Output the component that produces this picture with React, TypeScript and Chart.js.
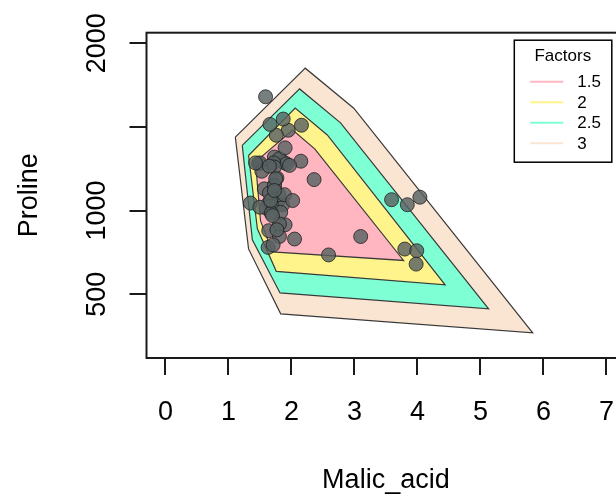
import React, { useEffect, useRef } from "react";
import { Chart, registerables } from "chart.js";

Chart.register(...registerables);

// Observations (Malic_acid, Proline)
const malicAcid = [
  1.71, 1.78, 2.36, 1.95, 2.59, 1.76, 1.87, 2.15, 1.64, 1.35, 2.16, 1.48, 1.73, 1.73, 1.87,
  1.81, 1.92, 1.57, 1.59, 3.1, 1.63, 3.8, 1.86, 1.6, 1.81, 2.05, 1.77, 1.72, 1.9, 1.68,
  1.5, 1.66, 1.83, 1.53, 1.8, 1.81, 1.64, 1.65, 1.5, 3.99, 1.71, 3.84, 1.89, 3.98, 1.77,
  4.04, 3.59, 1.68, 2.02, 1.73, 1.73, 1.65, 1.75, 1.9, 1.67, 1.73, 1.7, 1.97, 1.43,
];
const proline = [
  1065, 1050, 1185, 1480, 735, 1450, 1290, 1295, 1045, 1045, 1510, 1280, 1320, 1150, 1547,
  1310, 1280, 1130, 1680, 845, 780, 770, 1035, 1015, 845, 830, 1195, 1285, 915, 1035,
  1285, 1515, 990, 1235, 1095, 920, 880, 1105, 1020, 760, 795, 1035, 1095, 680, 885,
  1080, 1065, 985, 1060, 1260, 1150, 1265, 1190, 1375, 1060, 1120, 970, 1270, 1285,
];

// Hull polygons for each factor (vertices)
const hull3X = [1.11, 2.22, 2.99, 5.83, 1.83, 1.32];
const hull3Y = [1439, 1851, 1612, 269, 383, 771];
const hull25X = [1.22, 2.13, 2.78, 5.13, 1.82, 1.38];
const hull25Y = [1390, 1727, 1524, 413, 508, 825];
const hull2X = [1.32, 2.06, 2.57, 4.44, 1.76, 1.46];
const hull2Y = [1329, 1613, 1452, 556, 637, 891];
const hull15X = [1.43, 2.02, 2.37, 3.78, 1.7, 1.51];
const hull15Y = [1291, 1482, 1369, 702, 753, 938];

const factorLabels = ["1.5", "2", "2.5", "3"];
const factorColors = ["#FFB6C1", "#FFF38C", "#7FFFD4", "#FAE5D3"];

const xTicks = [0, 1, 2, 3, 4, 5, 6, 7];
const xTickLabels = ["0", "1", "2", "3", "4", "5", "6", "7"];
const yTicks = [500, 1000, 1500, 2000];
const yTickLabels = ["500", "1000", "", "2000"];

const xTitle = "Malic_acid";
const yTitle = "Proline";
const legendTitle = "Factors";

const FONT = '"Liberation Sans", Arial, Helvetica, sans-serif';

function poly(xs: number[], ys: number[]) {
  const pts = xs.map((x, i) => ({ x, y: ys[i] }));
  pts.push({ x: xs[0], y: ys[0] });
  return pts;
}

const rPlot = {
  id: "rPlot",
  afterDraw(chart: any) {
    const { ctx, chartArea: a, scales } = chart;
    const x = scales.x;
    const y = scales.y;
    ctx.save();
    // box
    ctx.strokeStyle = "#1a1a1a";
    ctx.lineWidth = 2;
    ctx.strokeRect(a.left, a.top, a.right - a.left, a.bottom - a.top);
    // ticks
    ctx.beginPath();
    xTicks.forEach((v) => {
      const px = Math.round(x.getPixelForValue(v)) + 0.0;
      ctx.moveTo(px, a.bottom);
      ctx.lineTo(px, a.bottom + 17);
    });
    yTicks.forEach((v) => {
      const py = Math.round(y.getPixelForValue(v));
      ctx.moveTo(a.left, py);
      ctx.lineTo(a.left - 17, py);
    });
    ctx.stroke();

    // tick labels
    ctx.fillStyle = "#000";
    ctx.font = `27px ${FONT}`;
    ctx.textAlign = "center";
    ctx.textBaseline = "alphabetic";
    xTicks.forEach((v, i) => {
      ctx.fillText(xTickLabels[i], x.getPixelForValue(v), a.bottom + 62);
    });
    yTicks.forEach((v, i) => {
      if (!yTickLabels[i]) return;
      ctx.save();
      ctx.translate(a.left - 41.5, y.getPixelForValue(v));
      ctx.rotate(-Math.PI / 2);
      ctx.fillText(yTickLabels[i], 0, 0);
      ctx.restore();
    });

    // axis titles
    ctx.fillText(xTitle, (a.left + a.right) / 2, a.bottom + 130);
    ctx.save();
    ctx.translate(a.left - 110, (a.top + a.bottom) / 2);
    ctx.rotate(-Math.PI / 2);
    ctx.fillText(yTitle, 0, 0);
    ctx.restore();

    // legend
    const lx = a.right - 111;
    const ly = a.top + 7.5;
    const lw = 97.5;
    const lh = 122;
    ctx.fillStyle = "#fff";
    ctx.fillRect(lx, ly, lw, lh);
    ctx.strokeStyle = "#000";
    ctx.lineWidth = 1.5;
    ctx.strokeRect(lx, ly, lw, lh);
    ctx.fillStyle = "#000";
    ctx.font = `17px ${FONT}`;
    ctx.textAlign = "center";
    ctx.textBaseline = "alphabetic";
    ctx.fillText(legendTitle, lx + 48.5, ly + 20.5);
    ctx.textAlign = "left";
    ctx.textBaseline = "middle";
    factorLabels.forEach((lab, i) => {
      const yy = ly + 41.5 + i * 20.5;
      ctx.strokeStyle = factorColors[i];
      ctx.lineWidth = 2;
      ctx.beginPath();
      ctx.moveTo(lx + 16, yy);
      ctx.lineTo(lx + 49, yy);
      ctx.stroke();
      ctx.fillStyle = "#000";
      ctx.fillText(lab, lx + 63, yy + 1);
    });
    ctx.restore();
  },
};

export default function App() {
  const ref = useRef<HTMLCanvasElement | null>(null);

  useEffect(() => {
    if (!ref.current) return;
    const hullStyle = (color: string, order: number) => ({
      type: "scatter" as const,
      showLine: true,
      fill: "shape",
      backgroundColor: color,
      borderColor: "#3a3a3a",
      borderWidth: 1.2,
      pointRadius: 0,
      tension: 0,
      order,
    });
    const chart = new Chart(ref.current, {
      type: "scatter",
      data: {
        datasets: [
          {
            label: "points",
            data: malicAcid.map((x, i) => ({ x, y: proline[i] })),
            backgroundColor: "rgba(88,98,98,0.82)",
            borderColor: "rgba(25,25,25,0.75)",
            borderWidth: 1,
            pointRadius: 7,
            order: 0,
          },
          { label: factorLabels[0], data: poly(hull15X, hull15Y), ...hullStyle(factorColors[0], 1) },
          { label: factorLabels[1], data: poly(hull2X, hull2Y), ...hullStyle(factorColors[1], 2) },
          { label: factorLabels[2], data: poly(hull25X, hull25Y), ...hullStyle(factorColors[2], 3) },
          { label: factorLabels[3], data: poly(hull3X, hull3Y), ...hullStyle(factorColors[3], 4) },
        ] as any,
      },
      options: {
        responsive: false,
        animation: false,
        events: [],
        layout: { padding: { left: 146.5, top: 32.7, right: 14.7, bottom: 138 } },
        scales: {
          x: { type: "linear", min: -0.3, max: 7.3, display: false },
          y: { type: "linear", min: 119, max: 2063, display: false },
        },
        plugins: {
          legend: { display: false },
          tooltip: { enabled: false },
        },
      },
      plugins: [rPlot],
    });
    return () => chart.destroy();
  }, []);

  return (
    <div
      style={{
        position: "fixed",
        left: 0,
        top: 0,
        width: 616,
        height: 496,
        overflow: "hidden",
        background: "#fff",
      }}
    >
      <canvas ref={ref} width={640} height={496} style={{ width: 640, height: 496, display: "block" }} />
    </div>
  );
}
